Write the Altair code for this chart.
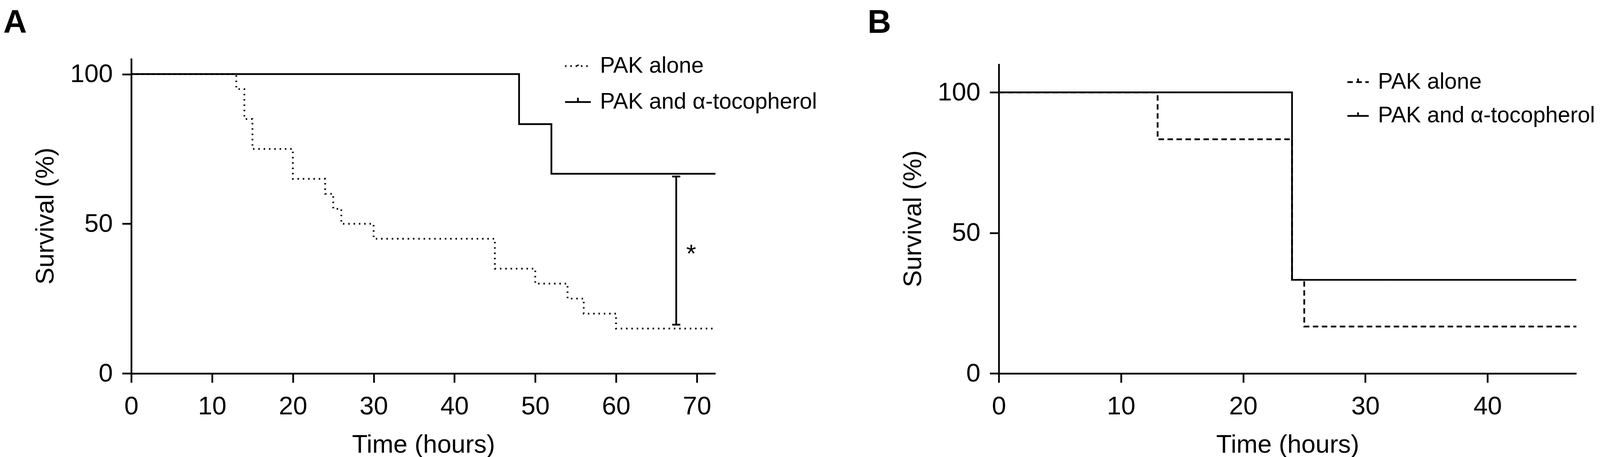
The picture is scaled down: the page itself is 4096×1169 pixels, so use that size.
import altair as alt
import pandas as pd

S = 0.993
FONT = "Liberation Sans"

SERIES = ["PAK alone", "PAK and α-tocopherol"]

# ---------------- Panel A ----------------
A_ALONE_T = [0, 13, 14, 15, 20, 24, 25, 26, 30, 45, 50, 54, 56, 60, 72.3]
A_ALONE_S = [100, 95, 85, 75, 65, 60, 55, 50, 45, 35, 30, 25, 20, 15, 15]
A_TOC_T = [0, 48, 52, 72.3]
A_TOC_S = [100, 83.3, 66.7, 66.7]
A_BAR_T = [67.45]
A_BAR_LO = [16.3]
A_BAR_HI = [65.8]
A_CAP_T1 = [66.95, 66.95]
A_CAP_T2 = [67.95, 67.95]
A_CAP_S = [16.3, 65.8]
A_STAR_T = [69.3]
A_STAR_S = [39.8]
A_XTICKS = [0, 10, 20, 30, 40, 50, 60, 70]
A_YTICKS = [0, 50, 100]
A_XMAX = 72.3
A_YMAX = 105.3

# ---------------- Panel B ----------------
B_ALONE_T = [0, 13, 24, 25, 47.27]
B_ALONE_S = [100, 83.3, 33.3, 16.7, 16.7]
B_TOC_T = [0, 24, 47.27]
B_TOC_S = [100, 33.3, 33.3]
B_XTICKS = [0, 10, 20, 30, 40]
B_YTICKS = [0, 50, 100]
B_XMAX = 47.27
B_YMAX = 110.2

# ---------------- styling (pixels, already scaled) ----------------
LW = 4.5 * S
TS = 23.5 * S
LF = 66 * S
TF = 65.5 * S
LEGF = 57.5 * S
A_W = 1506 * S
B_W = 1489 * S
H = 812 * S
B_TOP = 14 * S
TOP_PAD = 9
TITLE_OFFSET = -1161.0 + TOP_PAD

def frame(rows):
    return pd.DataFrame(rows)

df_a = pd.concat([
    frame({"t": A_ALONE_T, "s": A_ALONE_S, "series": SERIES[0]}),
    frame({"t": A_TOC_T, "s": A_TOC_S, "series": SERIES[1]}),
], ignore_index=True)
df_b = pd.concat([
    frame({"t": B_ALONE_T, "s": B_ALONE_S, "series": SERIES[0]}),
    frame({"t": B_TOC_T, "s": B_TOC_S, "series": SERIES[1]}),
], ignore_index=True)


def x_axis(values):
    return alt.Axis(values=values, title="Time (hours)", labelFlush=False, labelOverlap=False,
                    grid=False, domainColor="black", domainWidth=LW, tickColor="black",
                    tickWidth=LW, tickSize=TS, labelFont=FONT, labelFontSize=LF,
                    labelColor="black", labelPadding=29, titleFont=FONT, titleFontSize=TF,
                    titleFontWeight="normal", titleColor="black", titleBaseline="top",
                    titleY=151.1, format="d")


def y_axis(values):
    return alt.Axis(values=values, title="Survival (%)", labelOverlap=False, grid=False,
                    domainColor="black", domainWidth=LW, tickColor="black", tickWidth=LW,
                    tickSize=TS, labelFont=FONT, labelFontSize=LF, labelColor="black",
                    labelPadding=24.2, titleFont=FONT, titleFontSize=TF,
                    titleFontWeight="normal", titleColor="black", titleAngle=270,
                    titleBaseline="bottom", titleAlign="center", titleX=-185.4, format="d")


def legend(x, y, size, rowpad):
    return alt.Legend(orient="none", legendX=x, legendY=y, title=None,
                      symbolType="M-1,0H1M0,0V-0.33", symbolSize=size,
                      symbolStrokeWidth=LW, symbolStrokeColor="black",
                      symbolFillColor="transparent", labelFont=FONT, labelFontSize=LEGF,
                      labelColor="black", labelOffset=21, labelLimit=2000,
                      rowPadding=rowpad, padding=0)


def panel_title(letter, dx):
    return alt.TitleParams(letter, anchor="start", frame="group", orient="bottom",
                           baseline="top", font=FONT, fontSize=84 * S, fontWeight="bold",
                           color="black", dx=dx, offset=TITLE_OFFSET)


# ---------------- Panel A chart ----------------
xa = alt.Scale(domain=[0, A_XMAX], nice=False, zero=False)
ya = alt.Scale(domain=[0, A_YMAX], nice=False, zero=False)

lines_a = alt.Chart(df_a).mark_line(
    interpolate="step-after", color="black", strokeWidth=LW, strokeCap="butt"
).encode(
    x=alt.X("t:Q", scale=xa, axis=x_axis(A_XTICKS), title="Time (hours)"),
    y=alt.Y("s:Q", scale=ya, axis=y_axis(A_YTICKS), title="Survival (%)"),
    strokeDash=alt.StrokeDash(
        "series:N",
        scale=alt.Scale(domain=SERIES, range=[[3.7, 9.9], [1, 0]]),
        legend=legend(1108.0, -15.6, (66.5 * S) ** 2, 28.0),
    ),
)

bar_a = alt.Chart(frame({"t": A_BAR_T, "s": A_BAR_LO, "s2": A_BAR_HI})).mark_rule(
    color="black", strokeWidth=LW, strokeCap="butt"
).encode(
    x=alt.X("t:Q", scale=xa, title="Time (hours)"),
    y=alt.Y("s:Q", scale=ya, title="Survival (%)"),
    y2="s2:Q",
)

caps_a = alt.Chart(frame({"t": A_CAP_T1, "t2": A_CAP_T2, "s": A_CAP_S})).mark_rule(
    color="black", strokeWidth=LW, strokeCap="butt"
).encode(
    x=alt.X("t:Q", scale=xa, title="Time (hours)"),
    x2="t2:Q",
    y=alt.Y("s:Q", scale=ya, title="Survival (%)"),
)

star_a = alt.Chart(frame({"t": A_STAR_T, "s": A_STAR_S, "label": ["*"]})).mark_text(
    font=FONT, fontSize=66 * S, color="black", align="center", baseline="middle"
).encode(
    x=alt.X("t:Q", scale=xa, title="Time (hours)"),
    y=alt.Y("s:Q", scale=ya, title="Survival (%)"),
    text="label:N",
)

panel_a = alt.layer(lines_a, bar_a, caps_a, star_a).properties(
    width=A_W, height=H, title=panel_title("A", -327.6),
)

# ---------------- Panel B chart ----------------
xb = alt.Scale(domain=[0, B_XMAX], nice=False, zero=False)
yb = alt.Scale(domain=[0, B_YMAX], nice=False, zero=False, range=[H, B_TOP])

lines_b = alt.Chart(df_b).mark_line(
    interpolate="step-after", color="black", strokeWidth=LW, strokeCap="butt"
).encode(
    x=alt.X("t:Q", scale=xb, axis=x_axis(B_XTICKS), title="Time (hours)"),
    y=alt.Y("s:Q", scale=yb, axis=y_axis(B_YTICKS), title="Survival (%)"),
    strokeDash=alt.StrokeDash(
        "series:N",
        scale=alt.Scale(domain=SERIES, range=[[14, 9], [1, 0]]),
        legend=legend(889.7, 31.0, (55 * S) ** 2, 27.5),
    ),
)

panel_b = alt.layer(lines_b).properties(
    width=B_W, height=H, title=panel_title("B", -335.8),
)

chart = alt.hconcat(panel_a, panel_b, spacing=724.9, bounds="flush").resolve_scale(
    x="independent", y="independent", strokeDash="independent"
).resolve_legend(strokeDash="independent").properties(
    padding={"left": 0, "top": TOP_PAD, "right": 0, "bottom": 0}, background="white"
).configure_view(strokeWidth=0)

chart.save("out.html", embed_options={"renderer": "svg", "actions": False})
